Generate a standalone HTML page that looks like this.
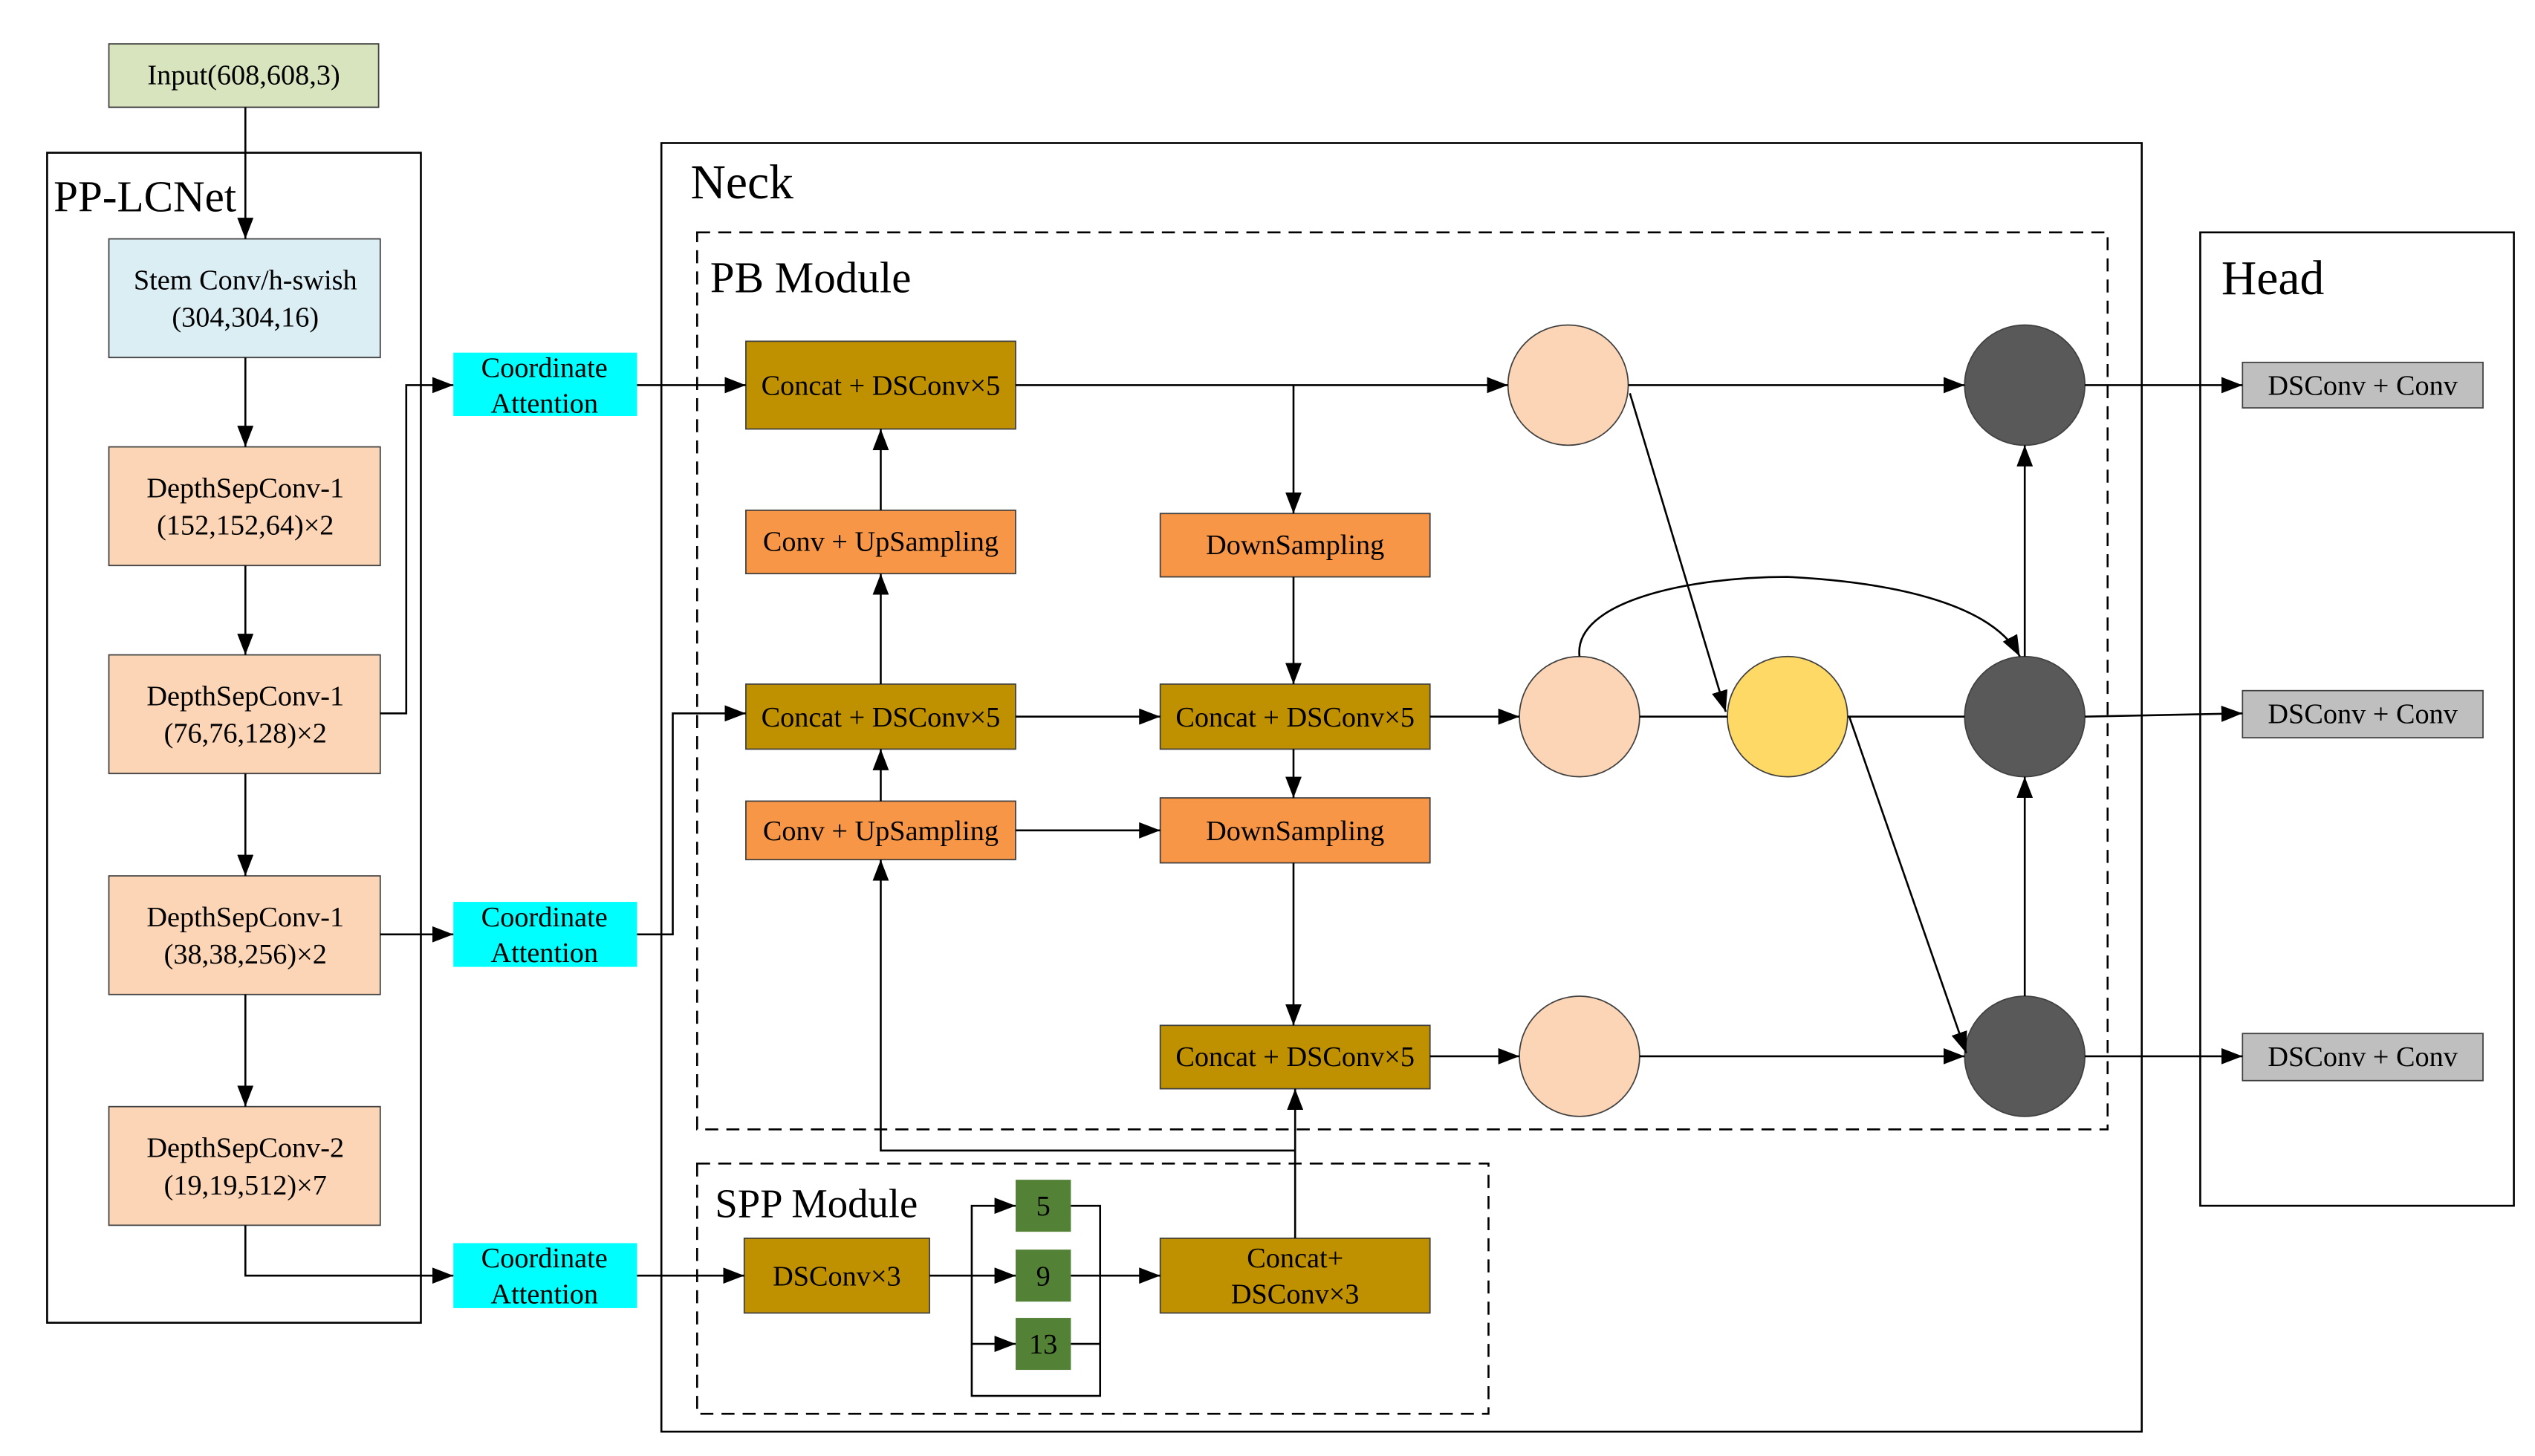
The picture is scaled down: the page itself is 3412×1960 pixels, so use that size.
<!DOCTYPE html>
<html><head><meta charset="utf-8"><style>
html,body{margin:0;padding:0;background:#fff;}
svg{display:block;}
text{font-family:"Liberation Serif",serif;fill:#000;}
</style></head><body>
<svg width="3412" height="1960" viewBox="0 0 1560 896" preserveAspectRatio="none" xmlns="http://www.w3.org/2000/svg">
<defs>
<marker id="a" markerWidth="13" markerHeight="10" refX="13" refY="5" orient="auto" markerUnits="userSpaceOnUse">
<path d="M0,0 L13,5 L0,10 z" fill="#000"/></marker>
</defs>
<g stroke="#000" stroke-width="1.2" fill="none">
<rect x="29" y="94" width="230" height="720"/>
<rect x="407" y="88" width="911" height="793"/>
<rect x="1354" y="143" width="193" height="599"/>
<rect x="429" y="143" width="868" height="552" stroke-dasharray="8,5"/>
<rect x="429" y="716" width="487" height="154" stroke-dasharray="8,5"/>
</g>
<g font-size="30"><text x="425" y="122">Neck</text><text x="1367" y="181">Head</text></g>
<text x="33" y="130" font-size="27">PP-LCNet</text>
<text x="437" y="180" font-size="27">PB Module</text>
<text x="440" y="749" font-size="25">SPP Module</text>

<g stroke="#404040" stroke-width="0.8">
<rect x="67" y="27" width="166" height="39" fill="#d7e4bd"/>
<rect x="67" y="147" width="167" height="73" fill="#dbeef4"/>
<rect x="67" y="275" width="167" height="73" fill="#fbd5b5"/>
<rect x="67" y="403" width="167" height="73" fill="#fbd5b5"/>
<rect x="67" y="539" width="167" height="73" fill="#fbd5b5"/>
<rect x="67" y="681" width="167" height="73" fill="#fbd5b5"/>
<rect x="279" y="217" width="113" height="39" fill="#00ffff" stroke="none"/>
<rect x="279" y="555" width="113" height="40" fill="#00ffff" stroke="none"/>
<rect x="279" y="765" width="113" height="40" fill="#00ffff" stroke="none"/>
<rect x="459" y="210" width="166" height="54" fill="#bf9000"/>
<rect x="459" y="314" width="166" height="39" fill="#f79646"/>
<rect x="459" y="421" width="166" height="40" fill="#bf9000"/>
<rect x="459" y="493" width="166" height="36" fill="#f79646"/>
<rect x="714" y="316" width="166" height="39" fill="#f79646"/>
<rect x="714" y="421" width="166" height="40" fill="#bf9000"/>
<rect x="714" y="491" width="166" height="40" fill="#f79646"/>
<rect x="714" y="631" width="166" height="39" fill="#bf9000"/>
<rect x="458" y="762" width="114" height="46" fill="#bf9000"/>
<rect x="714" y="762" width="166" height="46" fill="#bf9000"/>
<rect x="625" y="726" width="34" height="32" fill="#538135" stroke="none"/>
<rect x="625" y="769" width="34" height="32" fill="#538135" stroke="none"/>
<rect x="625" y="811" width="34" height="32" fill="#538135" stroke="none"/>
<rect x="1380" y="223" width="148" height="28" fill="#bfbfbf"/>
<rect x="1380" y="425" width="148" height="29" fill="#bfbfbf"/>
<rect x="1380" y="636" width="148" height="29" fill="#bfbfbf"/>
<circle cx="965" cy="237" r="37" fill="#fbd5b5"/>
<circle cx="972" cy="441" r="37" fill="#fbd5b5"/>
<circle cx="972" cy="650" r="37" fill="#fbd5b5"/>
<circle cx="1100" cy="441" r="37" fill="#ffd966"/>
<circle cx="1246" cy="237" r="37" fill="#595959"/>
<circle cx="1246" cy="441" r="37" fill="#595959"/>
<circle cx="1246" cy="650" r="37" fill="#595959"/>
</g>

<g stroke="#000" stroke-width="1.2" fill="none" marker-end="url(#a)">
<path d="M151,66 V147"/>
<path d="M151,220 V275"/>
<path d="M151,348 V403"/>
<path d="M151,476 V539"/>
<path d="M151,612 V681"/>
<path d="M234,439 H250 V237 H279"/>
<path d="M234,575 H279"/>
<path d="M151,754 V785 H279"/>
<path d="M392,237 H459"/>
<path d="M392,575 H414 V439 H459"/>
<path d="M392,785 H458"/>
<path d="M625,237 H928"/>
<path d="M796,237 V316"/>
<path d="M542,314 V264"/>
<path d="M542,421 V353"/>
<path d="M542,493 V461"/>
<path d="M625,441 H714"/>
<path d="M796,355 V421"/>
<path d="M796,461 V491"/>
<path d="M625,511 H714"/>
<path d="M796,531 V631"/>
<path d="M797,762 V670"/>
<path d="M797,708 H542 V529"/>
<path d="M880,441 H935"/>
<path d="M880,650 H935"/>
<path d="M1002,237 H1209"/>
<path d="M1003,242 L1062,438"/>
<path d="M972,404 C968,370 1040,355 1100,355 C1160,358 1225,370 1243,404"/>
<path d="M1138,441 L1210,648"/>
<path d="M1009,650 H1209"/>
<path d="M1246,613 V478"/>
<path d="M1246,404 V274"/>
<path d="M1283,237 H1380"/>
<path d="M1283,441 L1380,439"/>
<path d="M1283,650 H1380"/>
<path d="M572,785 H625"/>
<path d="M598,785 V742 H625"/>
<path d="M598,785 V827 H625"/>
<path d="M659,785 H714"/>
</g>
<g stroke="#000" stroke-width="1.2" fill="none">
<path d="M1009,441 H1063"/>
<path d="M1137,441 H1209"/>
<path d="M598,827 V859 H677 V742 H659"/>
<path d="M659,827 H677"/>
</g>

<g font-size="17.5" text-anchor="middle">
<text x="150" y="52">Input(608,608,3)</text>
<text x="151" y="178">Stem Conv/h-swish</text><text x="151" y="201">(304,304,16)</text>
<text x="151" y="306">DepthSepConv-1</text><text x="151" y="329">(152,152,64)×2</text>
<text x="151" y="434">DepthSepConv-1</text><text x="151" y="457">(76,76,128)×2</text>
<text x="151" y="570">DepthSepConv-1</text><text x="151" y="593">(38,38,256)×2</text>
<text x="151" y="712">DepthSepConv-2</text><text x="151" y="735">(19,19,512)×7</text>
<text x="335" y="232">Coordinate</text><text x="335" y="254">Attention</text>
<text x="335" y="570">Coordinate</text><text x="335" y="592">Attention</text>
<text x="335" y="780">Coordinate</text><text x="335" y="802">Attention</text>
<text x="542" y="243">Concat + DSConv×5</text>
<text x="542" y="339">Conv + UpSampling</text>
<text x="542" y="447">Concat + DSConv×5</text>
<text x="542" y="517">Conv + UpSampling</text>
<text x="797" y="341">DownSampling</text>
<text x="797" y="447">Concat + DSConv×5</text>
<text x="797" y="517">DownSampling</text>
<text x="797" y="656">Concat + DSConv×5</text>
<text x="515" y="791">DSConv×3</text>
<text x="797" y="780">Concat+</text><text x="797" y="802">DSConv×3</text>
<text x="642" y="748">5</text><text x="642" y="791">9</text><text x="642" y="833">13</text>
<text x="1454" y="243">DSConv + Conv</text>
<text x="1454" y="445">DSConv + Conv</text>
<text x="1454" y="656">DSConv + Conv</text>
</g>
</svg>
</body></html>
